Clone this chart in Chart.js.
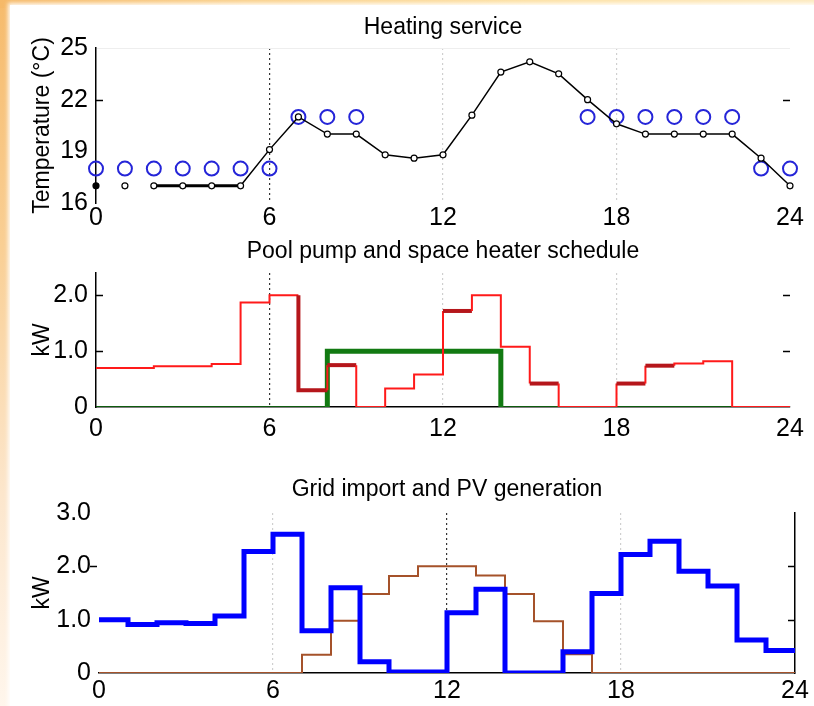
<!DOCTYPE html>
<html>
<head>
<meta charset="utf-8">
<script src="https://cdn.jsdelivr.net/npm/chart.js@4.4.1/dist/chart.umd.min.js"></script>
<style>
  html, body { margin: 0; padding: 0; }
  body {
    width: 814px; height: 706px; position: relative; overflow: hidden;
    background: linear-gradient(180deg, #f6bb6c 0%, #f9cf94 35%, #fce6cc 70%, #fff6ec 100%);
  }
  #topband {
    position: absolute; left: 0; top: 0; width: 814px; height: 8px;
    background: linear-gradient(90deg, #f6b968 0%, #fad08a 30%, #fde0a2 65%, #fde9bd 100%);
  }
  #card {
    position: absolute; left: 10px; top: 5px; width: 804px; height: 701px;
    background: #fff; box-shadow: 0 0 4px 2px rgba(255, 255, 255, 0.9);
  }
  canvas { position: absolute; left: 0; display: block; }
</style>
</head>
<body>
<div id="topband"></div>
<div id="card"></div>
<canvas id="heating" width="814" height="240" style="top:0px"></canvas>
<canvas id="schedule" width="814" height="215" style="top:232px"></canvas>
<canvas id="grid" width="814" height="241" style="top:465px"></canvas>
<script>
// hours of the day
const hours = [0, 1, 2, 3, 4, 5, 6, 7, 8, 9, 10, 11, 12, 13, 14, 15, 16, 17, 18, 19, 20, 21, 22, 23, 24];

// heating service (deg C), one value per hour 0..24
const tempMeasured = [17, 17, 17, 17, 17, 17, 19.1, 21, 20, 20, 18.8, 18.6, 18.8, 21.1, 23.6, 24.2, 23.5, 22, 20.6, 20, 20, 20, 20, 18.6, 17];
const tempSetpoint = [18, 18, 18, 18, 18, 18, 18, 21, 21, 21, null, null, null, null, null, null, null, 21, 21, 21, 21, 21, 21, 18, 18];

// schedule (kW), one value per hour slot 0..23
const heaterKw = [0.70, 0.70, 0.73, 0.73, 0.77, 1.87, 2.0, 0.30, 0.75, 0, 0.33, 0.58, 1.72, 2.0, 1.08, 0.42, 0, 0, 0.42, 0.74, 0.78, 0.82, 0, 0];
const heaterDarkHours = [7, 8, 12, 15, 18, 19];
const pumpKw = [0, 0, 0, 0, 0, 0, 0, 0, 1, 1, 1, 1, 1, 1, 0, 0, 0, 0, 0, 0, 0, 0, 0, 0];

// grid import and PV generation (kW), hour slots 0..23
const gridKw = [1.0, 0.91, 0.94, 0.93, 1.07, 2.28, 2.6, 0.79, 1.6, 0.21, 0.02, 0.02, 1.13, 1.57, 0, 0, 0.40, 1.49, 2.22, 2.47, 1.91, 1.63, 0.62, 0.42];
const pvKw = [0, 0, 0, 0, 0, 0, 0, 0.34, 0.98, 1.48, 1.82, 2.0, 2.0, 1.83, 1.48, 0.97, 0.35, 0, 0, 0, 0, 0, 0, 0];

const xTicks = [0, 6, 12, 18, 24];

const FONT = "'Liberation Sans', Arial, sans-serif";
const TICK_FONT = { family: "'Liberation Sans Narrow', 'Arial Narrow', 'Liberation Sans', sans-serif", size: 25 };
Chart.defaults.font.family = FONT;
Chart.defaults.color = '#000';

// hourly values -> step path (each slot held for one hour)
function stepPoints(values) {
    const pts = [];
    values.forEach((v, h) => {
        pts.push({ x: h, y: v });
        pts.push({ x: h + 1, y: v });
    });
    return pts;
}

// small tick marks drawn inside the plot edges
const sideTicks = {
    id: 'sideTicks',
    afterDatasetsDraw(chart, args, opts) {
        const { ctx, chartArea } = chart;
        const y = chart.scales.y;
        const len = opts.len || 7;
        ctx.save();
        ctx.strokeStyle = '#000';
        ctx.lineWidth = 1.5;
        const line = (x1, x2, v) => {
            const py = Math.round(y.getPixelForValue(v)) + 0.5;
            ctx.beginPath();
            ctx.moveTo(x1, py);
            ctx.lineTo(x2, py);
            ctx.stroke();
        };
        (opts.left || []).forEach(v => line(chartArea.left, chartArea.left + len, v));
        (opts.leftOut || []).forEach(v => line(chartArea.left - len - 2, chartArea.left - 2, v));
        (opts.right || []).forEach(v => line(chartArea.right - len, chartArea.right, v));
        ctx.restore();
    }
};

function xScale(height, pad, darkLine, lightLines, showBorder) {
    return {
        type: 'linear',
        min: 0,
        max: 24,
        afterBuildTicks: s => { s.ticks = xTicks.map(v => ({ value: v })); },
        ticks: { padding: pad, font: TICK_FONT, maxRotation: 0, autoSkip: false },
        grid: {
            drawTicks: false,
            lineWidth: 1.2,
            color: c => c.tick && c.tick.value === darkLine ? '#333'
                : (c.tick && lightLines.includes(c.tick.value) ? '#cfcfcf' : 'rgba(0,0,0,0)')
        },
        border: { display: showBorder, color: '#000', width: 1.5, dash: [2, 3] },
        afterFit: s => { s.height = height; }
    };
}

function yScale(opts) {
    return {
        type: 'linear',
        min: opts.min,
        max: opts.max,
        ticks: {
            stepSize: opts.step,
            includeBounds: false,
            padding: 8,
            font: TICK_FONT,
            callback: opts.fmt
        },
        grid: { drawTicks: false, color: 'rgba(0,0,0,0)' },
        border: { display: opts.border, color: '#000', width: 1.5 },
        title: { display: true, text: opts.title, font: { size: 23 }, padding: { top: 29, bottom: 0 } },
        afterFit: s => { s.width = opts.width; }
    };
}

function titleOpts(text, top, bottom) {
    return {
        display: true, text: text, fullSize: false,
        font: { size: 23, weight: 'normal' }, color: '#000',
        padding: { top: top, bottom: bottom }
    };
}

const kwFmt = v => v === 0 ? '0' : v.toFixed(1);

// ---- Heating service
new Chart(document.getElementById('heating'), {
    type: 'line',
    data: {
        datasets: [{
            label: 'Temperature',
            data: hours.map((h, i) => ({ x: h, y: tempMeasured[i] })),
            borderColor: '#000',
            borderWidth: 1.5,
            pointRadius: 3,
            pointBorderWidth: 1.2,
            pointBorderColor: '#000',
            pointBackgroundColor: hours.map(h => h === 0 ? '#000' : '#fff'),
            tension: 0,
            clip: false,
            segment: {
                borderColor: c => c.p0DataIndex < 2 ? 'rgba(0,0,0,0)' : '#000',
                borderWidth: c => c.p0DataIndex >= 2 && c.p0DataIndex <= 4 ? 3 : 1.5
            }
        }, {
            label: 'Setpoint',
            data: hours.map((h, i) => ({ x: h, y: tempSetpoint[i] })),
            showLine: false,
            pointRadius: 7,
            pointBorderWidth: 2,
            pointBorderColor: '#2525d8',
            pointBackgroundColor: 'rgba(0,0,0,0)',
            clip: false
        }]
    },
    options: {
        responsive: false,
        animation: false,
        events: [],
        devicePixelRatio: 1,
        layout: { padding: { left: 0, right: 24, top: 0, bottom: 0 } },
        scales: {
            x: xScale(37, 0, 6, [12, 18], false),
            y: (() => {
                const s = yScale({ min: 16, max: 25, step: 3, border: true, title: 'Temperature (°C)', width: 96 });
                s.grid.color = c => c.tick && c.tick.value === 25 ? '#eeeeee' : 'rgba(0,0,0,0)';
                return s;
            })()
        },
        plugins: {
            legend: { display: false },
            tooltip: { enabled: false },
            title: titleOpts('Heating service', 14.2, 6.2),
            sideTicks: { left: [22], right: [22] }
        }
    },
    plugins: [sideTicks]
});

// ---- Pool pump and space heater schedule
new Chart(document.getElementById('schedule'), {
    type: 'line',
    data: {
        datasets: [{
            label: 'Space heater',
            data: stepPoints(heaterKw),
            borderColor: '#ff1a1a',
            borderWidth: 2,
            pointRadius: 0,
            tension: 0,
            borderJoinStyle: 'miter',
            segment: {
                borderColor: c => heaterDark(c) ? '#b5161b' : '#ff1a1a',
                borderWidth: c => heaterDark(c) ? 4 : 2
            }
        }, {
            label: 'Pool pump',
            data: stepPoints(pumpKw),
            borderColor: '#127a12',
            borderWidth: 1.5,
            pointRadius: 0,
            tension: 0,
            borderJoinStyle: 'miter',
            segment: {
                borderWidth: c => {
                    const i = c.p0DataIndex, h = Math.floor(i / 2);
                    if (i % 2 === 0) return pumpKw[h] > 0 ? 5 : 1.5;
                    return (pumpKw[h] > 0 || pumpKw[h + 1] > 0) ? 5 : 1.5;
                }
            }
        }]
    },
    options: {
        responsive: false,
        animation: false,
        events: [],
        devicePixelRatio: 1,
        layout: { padding: { left: 0, right: 24, top: 0, bottom: 0 } },
        scales: {
            x: xScale(40, 7, 6, [12, 18], true),
            y: yScale({ min: 0, max: 2.4, step: 1, border: true, title: 'kW', width: 96, fmt: kwFmt })
        },
        plugins: {
            legend: { display: false },
            tooltip: { enabled: false },
            title: titleOpts('Pool pump and space heater schedule', 6.2, 7.2),
            sideTicks: { left: [1, 2], right: [1, 2] }
        }
    },
    plugins: [sideTicks]
});

function heaterDark(c) {
    const i = c.p0DataIndex, h = Math.floor(i / 2);
    if (i % 2 === 0) return heaterDarkHours.includes(h);
    return heaterKw[h] - heaterKw[h + 1] > 1;
}

// ---- Grid import and PV generation
new Chart(document.getElementById('grid'), {
    type: 'line',
    data: {
        datasets: [{
            label: 'Grid import',
            data: stepPoints(gridKw),
            borderColor: '#0000ff',
            borderWidth: 5,
            pointRadius: 0,
            tension: 0,
            borderJoinStyle: 'miter'
        }, {
            label: 'PV generation',
            data: stepPoints(pvKw),
            borderColor: '#a5522a',
            borderWidth: 2,
            pointRadius: 0,
            tension: 0,
            borderJoinStyle: 'miter'
        }]
    },
    options: {
        responsive: false,
        animation: false,
        events: [],
        devicePixelRatio: 1,
        layout: { padding: { left: 0, right: 19, top: 0, bottom: 0 } },
        scales: {
            x: xScale(33, 3, 12, [6, 18], true),
            y: yScale({ min: 0, max: 3, step: 1, border: false, title: 'kW', width: 99, fmt: kwFmt }),
            y2: {
                type: 'linear',
                position: 'right',
                min: 0,
                max: 3,
                ticks: { display: false },
                grid: { display: false, drawOnChartArea: false },
                border: { display: true, color: '#000', width: 1.5 },
                afterFit: s => { s.width = 0; }
            }
        },
        plugins: {
            legend: { display: false },
            tooltip: { enabled: false },
            title: titleOpts('Grid import and PV generation', 11.2, 9.2),
            sideTicks: { leftOut: [2], right: [1, 2] }
        }
    },
    plugins: [sideTicks]
});
</script>
</body>
</html>
